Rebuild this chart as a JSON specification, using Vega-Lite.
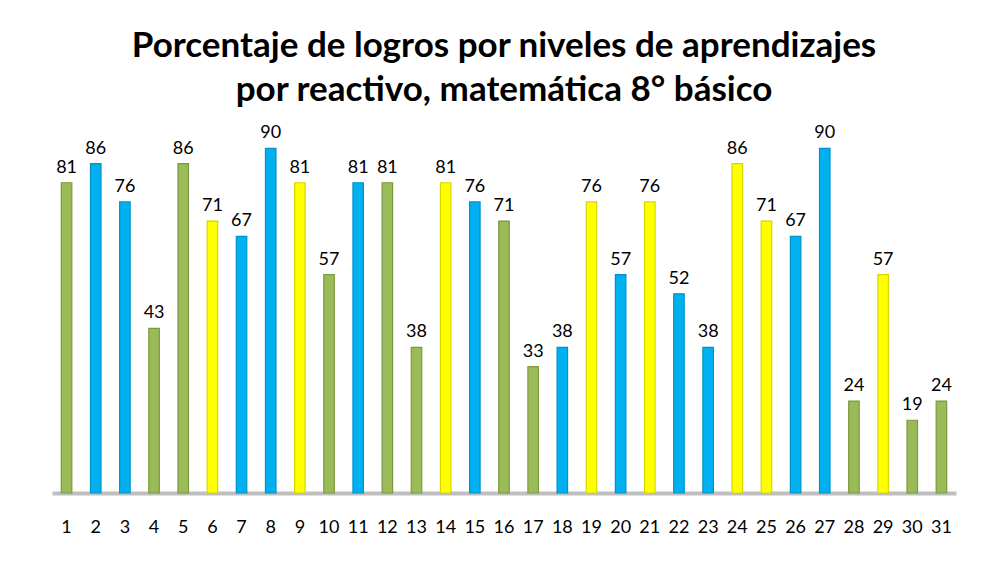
{
  "$schema": "https://vega.github.io/schema/vega-lite/v6.json",
  "width": 904,
  "height": 383,
  "autosize": {"type": "none"},
  "padding": {"left": 52, "top": 110, "right": 29, "bottom": 69},
  "background": "white",
  "title": {
    "text": ["Porcentaje de logros por niveles de aprendizajes", "por reactivo,  matemática 8° básico"],
    "font": "Lato",
    "fontSize": 35,
    "fontWeight": "bold",
    "color": "#000000",
    "anchor": "middle",
    "lineHeight": 44,
    "offset": 2
  },
  "data": {
    "values": [
      {"item": "1", "valor": 81, "grupo": "verde"},
      {"item": "2", "valor": 86, "grupo": "azul"},
      {"item": "3", "valor": 76, "grupo": "azul"},
      {"item": "4", "valor": 43, "grupo": "verde"},
      {"item": "5", "valor": 86, "grupo": "verde"},
      {"item": "6", "valor": 71, "grupo": "amarillo"},
      {"item": "7", "valor": 67, "grupo": "azul"},
      {"item": "8", "valor": 90, "grupo": "azul"},
      {"item": "9", "valor": 81, "grupo": "amarillo"},
      {"item": "10", "valor": 57, "grupo": "verde"},
      {"item": "11", "valor": 81, "grupo": "azul"},
      {"item": "12", "valor": 81, "grupo": "verde"},
      {"item": "13", "valor": 38, "grupo": "verde"},
      {"item": "14", "valor": 81, "grupo": "amarillo"},
      {"item": "15", "valor": 76, "grupo": "azul"},
      {"item": "16", "valor": 71, "grupo": "verde"},
      {"item": "17", "valor": 33, "grupo": "verde"},
      {"item": "18", "valor": 38, "grupo": "azul"},
      {"item": "19", "valor": 76, "grupo": "amarillo"},
      {"item": "20", "valor": 57, "grupo": "azul"},
      {"item": "21", "valor": 76, "grupo": "amarillo"},
      {"item": "22", "valor": 52, "grupo": "azul"},
      {"item": "23", "valor": 38, "grupo": "azul"},
      {"item": "24", "valor": 86, "grupo": "amarillo"},
      {"item": "25", "valor": 71, "grupo": "amarillo"},
      {"item": "26", "valor": 67, "grupo": "azul"},
      {"item": "27", "valor": 90, "grupo": "azul"},
      {"item": "28", "valor": 24, "grupo": "verde"},
      {"item": "29", "valor": 57, "grupo": "amarillo"},
      {"item": "30", "valor": 19, "grupo": "verde"},
      {"item": "31", "valor": 24, "grupo": "verde"}
    ]
  },
  "encoding": {
    "x": {
      "field": "item",
      "type": "ordinal",
      "sort": null,
      "scale": {"paddingInner": 0, "paddingOuter": 0},
      "axis": {
        "title": null,
        "labelAngle": 0,
        "ticks": false,
        "domain": true,
        "domainColor": "#BFBFBF",
        "domainWidth": 4,
        "labelFont": "Lato",
        "labelFontSize": 18,
        "labelColor": "#000000",
        "labelPadding": 25
      }
    },
    "y": {
      "field": "valor",
      "type": "quantitative",
      "scale": {"domain": [0, 100], "nice": false},
      "axis": null
    }
  },
  "layer": [
    {
      "mark": {"type": "bar", "width": {"band": 0.36}, "strokeWidth": 1.2},
      "encoding": {
        "color": {
          "field": "grupo",
          "type": "nominal",
          "scale": {"domain": ["verde", "azul", "amarillo"], "range": ["#9BBB59", "#00B0F0", "#FFFF00"]},
          "legend": null
        },
        "stroke": {
          "field": "grupo",
          "type": "nominal",
          "scale": {"domain": ["verde", "azul", "amarillo"], "range": ["#7A9A3E", "#0092C8", "#D6D600"]},
          "legend": null
        }
      }
    },
    {
      "mark": {"type": "text", "baseline": "bottom", "dy": -6, "font": "Lato", "fontSize": 18, "color": "#000000"},
      "encoding": {
        "text": {"field": "valor", "type": "quantitative"}
      }
    }
  ],
  "config": {
    "view": {"stroke": null}
  }
}
